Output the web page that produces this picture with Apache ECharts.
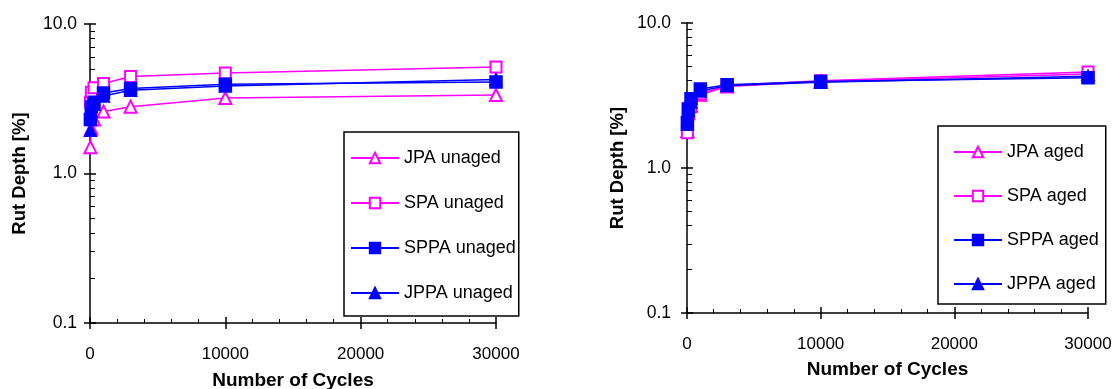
<!DOCTYPE html>
<html>
<head>
<meta charset="utf-8">
<script src="https://cdn.jsdelivr.net/npm/echarts@6/dist/echarts.min.js"></script>
<style>
html, body {margin: 0; padding: 0; background: #fff;}
#chart {width: 1115px; height: 389px;}
</style>
</head>
<body>
<div id="chart"></div>
<script>
// load cycles at which rut depth was read
const cycles = [30, 100, 300, 1000, 3000, 10000, 30000];

// rut depth [%], unaged binders
const jpaUnaged = [1.5, 2.0, 2.3, 2.6, 2.8, 3.2, 3.35];
const spaUnaged = [3.0, 3.5, 3.75, 4.0, 4.45, 4.7, 5.15];
const sppaUnaged = [2.3, 2.8, 3.0, 3.45, 3.7, 3.95, 4.1];
const jppaUnaged = [1.95, 2.6, 2.9, 3.3, 3.6, 3.85, 4.25];

// rut depth [%], aged binders
const jpaAged = [1.8, 2.4, 2.7, 3.2, 3.65, 3.95, 4.45];
const spaAged = [1.75, 2.35, 2.65, 3.25, 3.7, 4.0, 4.6];
const sppaAged = [2.05, 2.55, 3.0, 3.5, 3.75, 3.95, 4.2];
const jppaAged = [2.0, 2.5, 2.85, 3.4, 3.7, 3.9, 4.3];

const MAGENTA = '#ff00ff';
const BLUE = '#0000ff';
const FONT = '"Liberation Sans", Arial, sans-serif';

const chart = echarts.init(document.getElementById('chart'));

const line = (name, values, color, symbol, size, idx) => ({
  name,
  type: 'line',
  xAxisIndex: idx,
  yAxisIndex: idx,
  data: cycles.map((c, i) => [c, values[i]]),
  symbol,
  symbolSize: size,
  lineStyle: {color, width: 1.5},
  itemStyle: {color, borderColor: color, borderWidth: 1.5},
  emphasis: {disabled: true}
});

const tickStyle = {color: '#000', width: 1.5};

const xAxes = (gi, nameGap, labelMargin) => [{
  gridIndex: gi,
  type: 'value',
  min: 0,
  max: 30000,
  interval: 10000,
  position: 'bottom',
  axisLine: {show: true, onZero: false, lineStyle: {color: '#000', width: 1.5}},
  axisTick: {show: true, inside: true, length: 6, lineStyle: tickStyle},
  minorTick: {show: true, splitNumber: 5, length: 4, lineStyle: {color: '#000', width: 1}},
  splitLine: {show: false},
  axisLabel: {
    margin: labelMargin, color: '#000', fontSize: 17, fontFamily: FONT,
    formatter: v => String(v)
  },
  name: 'Number of Cycles',
  nameLocation: 'middle',
  nameGap,
  nameTextStyle: {color: '#000', fontSize: 19, fontWeight: 'bold', fontFamily: FONT}
}, {
  gridIndex: gi,
  type: 'value',
  min: 0,
  max: 30000,
  interval: 10000,
  position: 'bottom',
  axisLine: {show: false, onZero: false},
  axisTick: {show: true, inside: false, length: 6, lineStyle: tickStyle},
  axisLabel: {show: false},
  splitLine: {show: false}
}];

const yAxes = (gi, nameGap, labelMargin) => [{
  gridIndex: gi,
  type: 'log',
  logBase: 10,
  min: 0.1,
  max: 10,
  position: 'left',
  axisLine: {show: true, onZero: false, lineStyle: {color: '#000', width: 1.5}},
  axisTick: {show: true, inside: true, length: 6, lineStyle: tickStyle},
  minorTick: {show: true, splitNumber: 9, length: 5, lineStyle: {color: '#000', width: 1}},
  splitLine: {show: false},
  axisLabel: {
    margin: labelMargin, color: '#000', fontSize: 17.5, fontFamily: FONT,
    formatter: v => Number(v).toFixed(1)
  },
  name: 'Rut Depth [%]',
  nameLocation: 'middle',
  nameGap,
  nameTextStyle: {color: '#000', fontSize: 18.5, fontWeight: 'bold', fontFamily: FONT}
}, {
  gridIndex: gi,
  type: 'log',
  logBase: 10,
  min: 0.1,
  max: 10,
  position: 'left',
  axisLine: {show: false, onZero: false},
  axisTick: {show: true, inside: false, length: 6, lineStyle: tickStyle},
  axisLabel: {show: false},
  splitLine: {show: false}
}];

const legend = (names, left, top, itemGap, padding) => ({
  orient: 'vertical',
  left,
  top,
  data: names,
  itemWidth: 48,
  itemHeight: 13,
  itemGap,
  padding,
  borderColor: '#000',
  borderWidth: 1.5,
  selectedMode: false,
  textStyle: {color: '#000', fontSize: 18, fontFamily: FONT}
});

chart.setOption({
  animation: false,
  grid: [
    {left: 90, top: 24, width: 406, height: 299, outerBoundsMode: 'none', containLabel: false},
    {left: 687, top: 23, width: 401, height: 290, outerBoundsMode: 'none', containLabel: false}
  ],
  xAxis: [...xAxes(0, 48, 23), ...xAxes(1, 47, 23)],
  yAxis: [...yAxes(0, 61, 13), ...yAxes(1, 60, 16)],
  legend: [
    legend(['JPA unaged', 'SPA unaged', 'SPPA unaged', 'JPPA unaged'], 344, 132, 27, [17, 3, 14, 6]),
    legend(['JPA aged', 'SPA aged', 'SPPA aged', 'JPPA aged'], 938, 126, 26, [17, 7, 11, 15])
  ],
  series: [
    line('JPA unaged', jpaUnaged, MAGENTA, 'emptyTriangle', 12, 0),
    line('SPA unaged', spaUnaged, MAGENTA, 'emptyRect', 11, 0),
    line('SPPA unaged', sppaUnaged, BLUE, 'rect', 12, 0),
    line('JPPA unaged', jppaUnaged, BLUE, 'triangle', 12, 0),
    line('JPA aged', jpaAged, MAGENTA, 'emptyTriangle', 12, 2),
    line('SPA aged', spaAged, MAGENTA, 'emptyRect', 11, 2),
    line('SPPA aged', sppaAged, BLUE, 'rect', 12, 2),
    line('JPPA aged', jppaAged, BLUE, 'triangle', 12, 2)
  ]
});
</script>
</body>
</html>
